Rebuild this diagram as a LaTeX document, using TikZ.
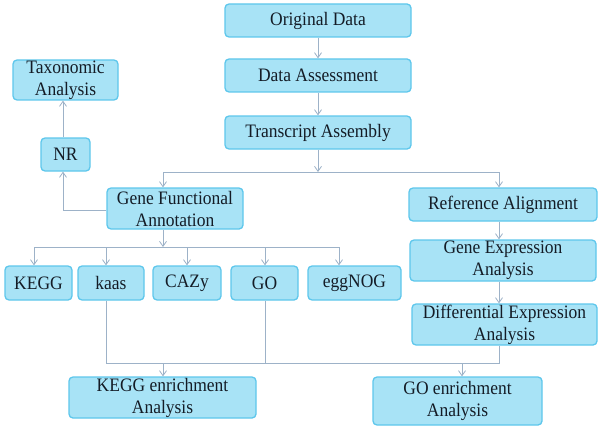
\documentclass[tikz,border=0pt]{standalone}
\usepackage{fontspec}
\setmainfont[FakeStretch=0.92]{Liberation Serif}
\usetikzlibrary{arrows.meta}
\definecolor{boxfill}{HTML}{A8E3F6}
\definecolor{boxdraw}{HTML}{5EC7EC}
\definecolor{linec}{HTML}{9DB2C8}
\definecolor{txt}{HTML}{141C26}
\begin{document}
\begin{tikzpicture}[x=1pt,y=-1pt,
  box/.style={draw=boxdraw,fill=boxfill,line width=1.3pt,rounded corners=4pt,
    inner sep=0pt,align=center,text=txt,font=\fontsize{19}{22}\selectfont},
  conn/.style={draw=linec,line width=0.8pt},
  arr/.style={conn,-{Straight Barb[length=5pt,width=7pt]}}]
\useasboundingbox[fill=white] (0,0) rectangle (604,441);
% nodes
\node[box,minimum width=186pt,minimum height=33pt] (orig) at (318,20.5) {Original Data};
\node[box,minimum width=186pt,minimum height=33pt] (assess) at (318,75.5) {Data Assessment};
\node[box,minimum width=186pt,minimum height=33pt] (asm) at (318,132.5) {Transcript Assembly};
\node[box,minimum width=136pt,minimum height=41pt] (gfa) at (175,208.5) {Gene Functional\\Annotation};
\node[box,minimum width=188pt,minimum height=33pt] (ref) at (503,204.5) {Reference Alignment};
\node[box,minimum width=105pt,minimum height=40pt] (tax) at (65.5,80) {Taxonomic\\Analysis};
\node[box,minimum width=49pt,minimum height=33pt] (nr) at (65.5,154.5) {NR};
\node[box,minimum width=67pt,minimum height=34pt] (kegg) at (38.5,283) {KEGG};
\node[box,minimum width=66pt,minimum height=34pt] (kaas) at (111,283) {kaas};
\node[box,minimum width=68pt,minimum height=34pt] (cazy) at (187,283) {CAZy};
\node[box,minimum width=67pt,minimum height=34pt] (go) at (264.5,283) {GO};
\node[box,minimum width=93pt,minimum height=34pt] (egg) at (354.5,283) {eggNOG};
\node[box,minimum width=186pt,minimum height=41pt] (gexp) at (503,260.5) {Gene Expression\\Analysis};
\node[box,minimum width=185pt,minimum height=41pt] (dexp) at (504.5,324.5) {Differential Expression\\Analysis};
\node[box,minimum width=187pt,minimum height=41pt] (keggen) at (162.5,397.5) {KEGG enrichment\\Analysis};
\node[box,minimum width=169pt,minimum height=48pt] (goen) at (457.5,401) {GO enrichment\\Analysis};
% junction coordinates
\coordinate (j1) at (318,172);
\coordinate (j1l) at (163,172);
\coordinate (j1r) at (499,172);
\coordinate (j2) at (163,247);
\coordinate (j2l) at (34,247);
\coordinate (j2r) at (339,247);
\coordinate (j3l) at (106,363);
\coordinate (j3r) at (499,363);
\coordinate (corner) at (63,210);
% connectors
\draw[arr] (orig.south) -- (assess.north);
\draw[arr] (assess.south) -- (asm.north);
\draw[arr] (asm.south) -- (j1);
\draw[conn] (j1l) -- (j1r);
\draw[arr] (j1l) -- (j1l |- gfa.north);
\draw[arr] (j1r) -- (j1r |- ref.north);
\draw[arr] (gfa.west |- corner) -- (corner) -- (nr.south -| corner);
\draw[arr] (nr.north -| corner) -- (tax.south -| corner);
\draw[arr] (gfa.south -| j2) -- (j2);
\draw[conn] (j2l) -- (j2r);
\draw[arr] (j2l) -- (j2l |- kegg.north);
\draw[arr] (106,247) -- (106,247 |- kaas.north);
\draw[arr] (187,247) -- (187,247 |- cazy.north);
\draw[arr] (265,247) -- (265,247 |- go.north);
\draw[arr] (j2r) -- (j2r |- egg.north);
\draw[arr] (ref.south -| j1r) -- (gexp.north -| j1r);
\draw[arr] (gexp.south -| j1r) -- (dexp.north -| j1r);
\draw[conn] (kaas.south -| j3l) -- (j3l) -- (j3r) -- (dexp.south -| j3r);
\draw[conn] (go.south -| 265,0) -- (265,363);
\draw[arr] (163,363) -- (keggen.north -| 163,0);
\draw[arr] (462,363) -- (goen.north -| 462,0);
\end{tikzpicture}
\end{document}
